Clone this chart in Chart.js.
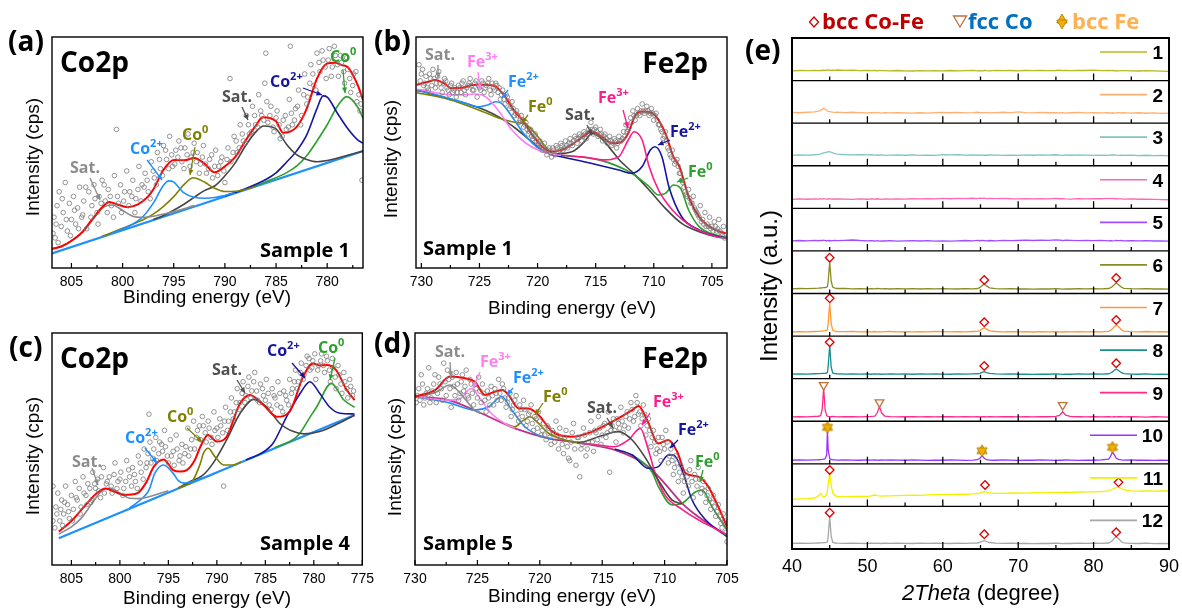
<!DOCTYPE html>
<html>
<head>
<meta charset="utf-8">
<script src="https://cdn.jsdelivr.net/npm/chart.js@4.4.1/dist/chart.umd.min.js"></script>
<style>
  html, body { margin: 0; padding: 0; background: #fff; overflow: hidden; }
  #wrap { position: relative; width: 1182px; height: 609px; }
  canvas { position: absolute; }
  #ov { position: absolute; left: 0; top: 0; pointer-events: none; }
</style>
</head>
<body>
<div id="wrap">
  <canvas id="cA" width="380" height="292" style="left:0;top:0"></canvas>
  <canvas id="cB" width="380" height="292" style="left:365px;top:0"></canvas>
  <canvas id="cC" width="380" height="300" style="left:0;top:296px"></canvas>
  <canvas id="cD" width="380" height="300" style="left:365px;top:296px"></canvas>
  <canvas id="cE" width="450" height="609" style="left:740px;top:0"></canvas>
  <svg id="ov" width="1182" height="609"></svg>
</div>
<script>
// ===== tick labels =====
const ticksA = [805, 800, 795, 790, 785, 780];
const ticksB = [730, 725, 720, 715, 710, 705];
const ticksC = [805, 800, 795, 790, 785, 780, 775];
const ticksD = [730, 725, 720, 715, 710, 705];
const ticksE = [40, 50, 60, 70, 80, 90];

// ===== (a) Co2p, Sample 1 : [binding energy, intensity] =====
const scatA = [[806.7,22],[806.6,13],[806.4,27],[806.2,33],[806.0,18],[805.8,24],[805.6,37],[805.4,16],[805.2,28],[805.0,21],[804.8,31],[804.6,19],[804.4,26],[804.2,35],[804.0,22],[803.8,29],[803.5,17],[803.3,33],[803.0,27],[802.8,36],[802.5,24],[802.3,31],[802.0,38],[801.7,29],[801.4,34],[801.1,27],[800.8,40],[800.6,60],[800.5,31],[800.2,36],[799.9,29],[799.6,42],[799.3,33],[799.0,38],[798.7,30],[798.4,44],[798.1,36],[797.8,41],[797.5,33],[797.2,46],[796.9,39],[796.6,50],[796.3,43],[796.0,53],[795.7,47],[795.4,57],[795.1,44],[794.8,51],[794.5,55],[794.2,46],[793.9,52],[793.6,58],[793.3,48],[793.0,54],[792.7,50],[792.4,45],[792.1,53],[791.8,41],[791.5,47],[791.2,39],[790.9,51],[790.6,44],[790.3,48],[790.0,37],[789.7,52],[789.5,82],[789.4,46],[789.1,57],[788.8,50],[788.5,62],[788.2,55],[787.9,66],[787.6,58],[787.3,70],[787.0,62],[786.7,75],[786.4,66],[786.1,80],[786.0,93],[785.8,63],[785.5,70],[785.2,59],[784.9,68],[784.6,56],[784.3,64],[784.0,60],[783.7,73],[783.6,96],[783.4,62],[783.1,69],[782.8,77],[782.5,66],[782.2,84],[781.9,74],[781.6,88],[781.3,79],[781.0,93],[780.7,85],[780.4,90],[780.1,82],[779.8,95],[779.5,87],[779.2,92],[778.9,83],[778.6,89],[778.3,80],[778.0,86],[777.7,76],[777.4,84],[777.1,72],[776.8,68],[776.6,38],
  [806.8,15],[806.5,19],[806.3,11],[805.9,30],[805.5,21],[805.1,14],[804.7,25],[804.3,17],[803.9,23],[803.6,35],[803.1,22],[802.7,30],[802.4,19],[802.1,28],[801.8,36],[801.5,24],[801.2,31],[800.9,22],[800.4,28],[800.1,24],[799.8,33],[799.4,27],[799.1,31],[798.8,24],[798.5,34],[798.2,29],[797.9,35],[797.6,38],[797.3,30],[797.0,42],[796.7,36],[796.4,47],[796.1,40],[795.8,51],[795.5,43],[795.2,49],[794.9,45],[794.6,48],[794.3,52],[794.0,43],[793.7,49],[793.4,44],[793.1,50],[792.8,46],[792.5,41],[792.2,48],[791.9,45],[791.6,43],[791.3,49],[791.0,44],[790.7,40],[790.4,46],[790.1,42],[789.8,47],[789.2,50],[788.9,55],[788.6,52],[788.3,58],[788.0,54],[787.7,62],[787.4,59],[787.1,66],[786.8,61],[786.5,68],[786.2,64],[785.9,72],[785.6,66],[785.3,61],[785.0,65],[784.7,62],[784.4,57],[784.1,66],[783.8,61],[783.5,67],[783.2,64],[782.9,70],[782.6,62],[782.3,75],[782.0,71],[781.7,80],[781.4,84],[781.1,77],[780.8,89],[780.5,94],[780.2,87],[779.9,90],[779.6,83],[779.3,96],[779.0,88],[778.7,92],[778.4,85],[778.1,91],[777.8,82],[777.5,79],[777.2,85],[776.9,75],[776.7,71]];
const fitA = [[806.9,8.3],[806,9.3],[805,11.8],[804,15.3],[803,20.9],[802,26.3],[801.3,28.6],[800.5,27.5],[799.5,26.3],[798.5,27.5],[797.5,31],[797,34],[796,42.5],[795,46.8],[794,46.6],[793,47.6],[792,45.2],[791,41.4],[790,44],[789,48],[788,55],[787,61.5],[786.3,65.3],[785,63.5],[784.3,58.5],[783,61],[782,69],[781,82],[780,88.5],[779.3,88.8],[778.5,87.8],[778,87],[777,79],[776.5,72.7]];
const bgA = [[806.9,6.3],[776.5,50.6]];
const satLA = [[806.9,8.3],[806,9.3],[805,11.7],[804,15.1],[803,20.5],[802,25.8],[801.5,27.1],[801,27.3],[800,24.9],[799,22.4],[798,21.9],[797,22.4],[796,23.4],[795,24.4],[793,27.0]];
const co2LA = [[801,15.2],[800,16.9],[799,19.0],[798,22.3],[797,28.1],[796,35.8],[795.5,37.7],[795,37.2],[794,32.5],[793,30.6],[792,30.2],[791,30.5],[790,31.4],[789,32.5]];
const co0LA = [[802,13.7],[800,17.2],[798,20.9],[797,23.3],[796,26.7],[795,30.9],[794,36.1],[793.1,39.1],[792,37.2],[791,34.5],[790,33.1],[789,33.2],[788,34.0],[787,35.3]];
const satDA = [[797,21.0],[796,22.7],[794,27.6],[793,30.6],[792,33.5],[791,35.5],[790,39.9],[789,45.4],[788,52.8],[787,58.8],[786.2,61.5],[785,60.2],[784,53.7],[783,49.1],[782,47.0],[781,46],[780,46.5],[778,48.8],[776.5,50.6]];
const co2DA = [[790,31.2],[788,34.3],[786,38.3],[785,41.2],[784,45.7],[783,50.6],[782,57.6],[781,69],[780.4,74.5],[780,74],[779,67],[778,60.4],[777,55.4],[776.5,54]];
const co0DA = [[787,35.5],[786,37.3],[784,41.2],[783,44.1],[782,48.6],[781,55],[780,62],[779,70],[778.1,74.2],[777,69.5],[776.5,64.8]];

// ===== (b) Fe2p, Sample 1 =====
const scatB = [[730.2,88],[730.0,84],[729.8,79],[729.6,83],[729.4,77],[729.2,82],[729.0,86],[728.8,78],[728.6,83],[728.4,80],[728.2,76],[728.0,82],[727.8,78],[727.6,75],[727.4,80],[727.2,77],[727.0,74],[726.8,79],[726.6,76],[726.4,81],[726.2,75],[726.0,79],[725.8,82],[725.6,77],[725.4,80],[725.2,74],[725.0,78],[724.8,81],[724.6,76],[724.4,79],[724.2,82],[724.0,75],[723.8,78],[723.6,80],[723.4,76],[723.2,73],[723.0,77],[722.8,71],[722.6,74],[722.4,69],[722.2,72],[722.0,66],[721.8,68],[721.6,63],[721.4,66],[721.2,61],[721.0,63],[720.8,58],[720.6,60],[720.4,56],[720.2,58],[720.0,53],[719.8,55],[719.6,51],[719.4,54],[719.2,49],[719.0,52],[718.8,48],[718.6,51],[718.4,53],[718.2,50],[718.0,54],[717.8,51],[717.6,55],[717.4,52],[717.2,56],[717.0,53],[716.8,57],[716.6,54],[716.4,58],[716.2,55],[716.0,59],[715.8,56],[715.6,60],[715.4,63],[715.2,58],[715.0,61],[714.8,57],[714.6,60],[714.4,55],[714.2,58],[714.0,54],[713.8,57],[713.6,53],[713.4,56],[713.2,52],[713.0,57],[712.8,55],[712.6,59],[712.4,62],[712.2,60],[712.0,65],[711.8,68],[711.6,64],[711.4,69],[711.2,66],[711.0,71],[710.8,67],[710.6,70],[710.4,66],[710.2,69],[710.0,64],[709.8,67],[709.6,62],[709.4,60],[709.2,56],[709.0,59],[708.8,52],[708.6,49],[708.4,51],[708.2,45],[708.0,47],[707.8,41],[707.6,38],[707.4,35],[707.2,32],[707.0,34],[706.8,28],[706.6,31],[706.4,25],[706.2,23],[706.0,27],[705.8,21],[705.6,24],[705.4,19],[705.2,22],[705.0,18],[704.8,20],[704.6,16],[704.4,21],[704.2,15],[704.0,18],[703.9,13],
  [730.1,81],[729.9,86],[729.7,80],[729.5,78],[729.3,84],[729.1,79],[728.9,82],[728.7,80],[728.5,85],[728.3,78],[728.1,80],[727.9,81],[727.7,77],[727.5,79],[727.3,76],[727.1,78],[726.9,76],[726.7,78],[726.5,80],[726.3,77],[726.1,78],[725.9,80],[725.7,79],[725.5,77],[725.3,81],[725.1,79],[724.9,77],[724.7,80],[724.5,78],[724.3,80],[724.1,77],[723.9,80],[723.7,77],[723.5,79],[723.3,78],[723.1,75],[722.9,73],[722.7,75],[722.5,72],[722.3,70],[722.1,69],[721.9,67],[721.7,66],[721.5,64],[721.3,64],[721.1,62],[720.9,60],[720.7,59],[720.5,57],[720.3,57],[720.1,55],[719.9,54],[719.7,53],[719.5,52],[719.3,51],[719.1,51],[718.9,50],[718.7,52],[718.5,49],[718.3,52],[718.1,51],[717.9,53],[717.7,52],[717.5,53],[717.3,54],[717.1,54],[716.9,55],[716.7,56],[716.5,56],[716.3,57],[716.1,57],[715.9,58],[715.7,58],[715.5,59],[715.3,60],[715.1,60],[714.9,59],[714.7,58],[714.5,58],[714.3,57],[714.1,56],[713.9,55],[713.7,55],[713.5,54],[713.3,55],[713.1,54],[712.9,55],[712.7,56],[712.5,57],[712.3,59],[712.1,61],[711.9,63],[711.7,66],[711.5,66],[711.3,67],[711.1,68],[710.9,68],[710.7,68],[710.5,68],[710.3,67],[710.1,67],[709.9,66],[709.7,64],[709.5,62],[709.3,59],[709.1,57],[708.9,55],[708.7,51],[708.5,48],[708.3,47],[708.1,46],[707.9,44],[707.7,41],[707.5,37],[707.3,33],[707.1,31],[706.9,30],[706.7,28],[706.5,26],[706.3,24],[706.1,22],[705.9,20],[705.7,19],[705.5,18],[705.3,18],[705.1,17],[704.9,16],[704.7,18],[704.5,17],[704.3,16],[704.1,14]];
const fitB = [[730.4,79.3],[729.5,80.5],[728.8,81.4],[728,79.8],[727.4,77.8],[726.5,78],[725.6,79.2],[724.5,79.3],[723.6,78.5],[722.8,74.2],[722,68],[721.3,64],[720.5,58],[719.6,52.5],[718.8,50.4],[717.5,52],[716.5,55.4],[715.3,59],[714.5,57],[713.6,54],[712.8,54.5],[712.2,58.3],[711.6,66],[711,67.7],[710.4,67.5],[709.9,66.2],[709,58.3],[708.3,48],[707.8,43.9],[707,30.9],[706.1,22.2],[705,17.2],[703.8,15]];
const bgB = [[730.4,77.2],[729.8,76.3],[728,73.8],[726.2,71.3],[724.5,68.3],[723.3,65.3],[721.9,60.5],[720.5,54.7],[719.3,50],[718.5,49.4],[717,50.4],[716,54.5],[715.3,58.3],[714.5,56],[713.8,52],[713,47],[711.9,41.7],[710.4,33.8],[709,25.8],[707.6,19.3],[706.1,15.7],[704.4,13.3],[703.8,13]];
const fe0LB = [[730.4,75.9],[728,73.5],[726.2,70.6],[724.5,67.3],[723.3,64.8],[722.2,63.3],[721.3,62.6],[720.9,61.8],[720.2,58.3],[719.3,52.5],[718.7,49.4],[718,48.8]];
const fe2LB = [[730.4,76.6],[729.8,76.3],[727.6,73.4],[726.2,71.3],[725.1,69.8],[724.3,70.6],[723.6,72],[723.1,71.3],[722.2,65.5],[721,56.9],[719.9,51.8],[718.8,49.4],[718,48.8]];
const fe3LB = [[730.4,77.4],[729.8,77],[727.4,74.9],[726.5,74.9],[725.4,75.3],[724.5,74.2],[723.4,68.4],[722.2,59.7],[721,54],[719.9,51],[718.8,49.4],[718,48.8]];
const fe3DB = [[718.8,49.2],[716,48],[714.2,46.8],[713,48.2],[712.2,55.4],[711.7,59],[711,55.4],[710.4,43.9],[709.6,33.8],[708.4,25.1],[706.7,17.9],[704.4,13.3],[703.8,13]];
const fe2DB = [[718.8,49],[716,46],[713,42.4],[711.9,41],[711,43.9],[710.3,51.1],[709.9,52.5],[709.3,48.2],[708.7,35.2],[707.6,22.2],[706.1,16.5],[704.4,13.6],[703.8,13.2]];
const fe0DB = [[718.8,49],[714.7,46.8],[711.9,41],[710.4,35.2],[709.6,31.6],[709,32.3],[708.3,35.9],[707.7,34.5],[707,25.1],[706.1,17.9],[704.4,13.9],[703.8,13.3]];

// ===== (c) Co2p, Sample 4 =====
const scatC = [[806.9,19],[806.9,34],[806.6,25],[806.4,31],[806.2,19],[806.0,28],[805.8,22],[805.6,34],[805.4,26],[805.2,20],[805.0,30],[804.8,24],[804.6,36],[804.4,28],[804.2,33],[804.0,25],[803.8,38],[803.5,30],[803.3,35],[803.0,27],[802.8,40],[802.5,33],[802.3,37],[802.0,29],[801.7,42],[801.4,35],[801.1,38],[800.8,31],[800.5,44],[800.2,36],[799.9,40],[799.6,33],[799.3,45],[799.0,38],[798.7,42],[798.4,36],[798.1,47],[797.8,40],[797.5,50],[797.2,44],[797.0,65],[796.9,53],[796.6,46],[796.3,55],[796.0,48],[795.7,52],[795.4,58],[795.1,47],[794.8,54],[794.5,49],[794.2,56],[793.9,45],[793.6,52],[793.3,48],[793.0,59],[792.7,50],[792.4,62],[792.1,55],[791.8,60],[791.5,64],[791.2,57],[790.9,62],[790.6,55],[790.3,66],[790.0,59],[789.7,63],[789.4,57],[789.3,34],[789.1,68],[788.8,62],[788.5,72],[788.2,66],[787.9,76],[787.6,70],[787.3,79],[787.0,73],[786.7,81],[786.4,75],[786.1,83],[785.8,71],[785.5,78],[785.2,73],[784.9,80],[784.6,69],[784.3,76],[784.0,72],[783.7,79],[783.4,68],[783.1,75],[782.8,71],[782.5,80],[782.2,76],[781.9,84],[781.6,79],[781.3,87],[781.0,82],[780.7,90],[780.4,84],[780.1,88],[779.8,80],[779.5,86],[779.2,91],[778.9,83],[778.6,88],[778.3,79],[778.0,85],[777.7,76],[777.4,82],[777.1,74],[776.8,79],[776.5,72],[776.2,77],[775.9,75],
  [806.7,16],[806.5,22],[806.1,24],[805.9,17],[805.7,27],[805.3,23],[804.9,19],[804.5,29],[804.1,22],[803.7,31],[803.4,26],[803.1,33],[802.9,28],[802.6,35],[802.2,32],[801.9,38],[801.6,31],[801.3,36],[800.9,34],[800.6,39],[800.3,33],[800.0,37],[799.7,30],[799.4,36],[799.1,41],[798.8,34],[798.5,39],[798.2,33],[797.9,44],[797.6,37],[797.3,42],[797.1,48],[796.8,44],[796.5,50],[796.2,45],[795.9,53],[795.6,49],[795.3,51],[795.0,44],[794.7,47],[794.4,43],[794.1,50],[793.8,47],[793.5,44],[793.2,51],[792.9,47],[792.6,54],[792.3,50],[792.0,58],[791.7,54],[791.4,60],[791.1,53],[790.8,59],[790.5,52],[790.2,58],[789.9,55],[789.6,60],[789.2,62],[788.9,58],[788.6,66],[788.3,63],[788.0,70],[787.7,67],[787.4,74],[787.1,70],[786.8,77],[786.5,72],[786.2,79],[785.9,75],[785.6,70],[785.3,76],[785.0,71],[784.7,74],[784.4,67],[784.1,73],[783.8,69],[783.5,74],[783.2,66],[782.9,73],[782.6,69],[782.3,74],[782.0,79],[781.7,76],[781.4,83],[781.1,80],[780.8,86],[780.5,89],[780.2,85],[779.9,91],[779.6,84],[779.3,88],[779.0,86],[778.7,90],[778.4,84],[778.1,89],[777.8,81],[777.5,86],[777.2,78],[776.9,83],[776.6,76],[776.3,80],[776.0,73]];
const fitC = [[806.3,14.5],[806.1,15.1],[805,19],[803.7,25.1],[802.5,30.5],[801.5,33],[800.5,31.5],[799.6,30.2],[798.2,30.9],[797.3,35.5],[796.5,42.4],[795.5,45.5],[794.5,40.9],[793.8,40.3],[793.1,40.9],[792.3,45],[791.7,51],[790.9,56],[790,53.2],[789,55.3],[787.6,69.7],[786.6,73.3],[785.2,69],[783.8,63.9],[782.5,66.1],[781.1,81.2],[780.1,86.9],[779.4,86],[778.7,86.2],[777.7,84],[776.6,75.4],[775.8,71.1]];
const bgC = [[806.3,11.5],[775.8,64.7]];
const satLC = [[806.3,13.3],[805,16.4],[804,20.1],[803,25.8],[802,31.4],[801.5,32.9],[801,33.1],[800,31],[799,28.8],[798,28.6],[797,29.4],[796,30.7],[795,32]];
const co2LC = [[799,24.5],[798.2,27],[797.5,29.5],[797,32.3],[796.4,39.5],[795.5,43.1],[794.5,39.5],[794,36.5],[793.4,35.3],[792.5,36],[791.5,37.4],[790,39.9]];
const co0LC = [[794,33.1],[793,34.8],[792.6,35.6],[791.7,43.8],[791.4,48],[790.9,50.3],[790.2,46.7],[789.3,43.1],[788.3,43.1],[787.5,44.5]];
const satDC = [[794,33.2],[792.8,35.9],[791.5,38.5],[790.4,43.8],[789,53.9],[787.6,65.4],[786.2,71.4],[784.9,68.2],[783.5,61],[782.1,57.5],[781,56.5],[779.4,57.5],[777,62],[775.8,64.5]];
const co2DC = [[787,45.3],[785.5,48],[784.2,52.5],[782.8,64],[781.4,74],[780.4,79],[779.4,74],[778.4,68.2],[777.3,65.4],[775.8,65.1]];
const co0DC = [[784,50.5],[782,54.5],[781.4,57],[780.5,63],[779.7,68.2],[778.2,78.3],[776.9,71.1],[775.8,68]];

// ===== (d) Fe2p, Sample 5 =====
const scatD = [[729.9,70],[729.7,76],[729.5,82],[729.3,69],[729.1,74],[728.9,85],[728.7,72],[728.5,78],[728.3,70],[728.1,81],[727.9,76],[727.7,87],[727.5,73],[727.3,80],[727.1,68],[726.9,77],[726.7,83],[726.5,71],[726.3,79],[726.1,75],[725.9,84],[725.7,72],[725.5,78],[725.3,69],[725.1,76],[724.9,81],[724.7,70],[724.5,74],[724.3,66],[724.1,72],[723.9,77],[723.7,69],[723.5,74],[723.3,80],[723.1,71],[722.9,76],[722.7,68],[722.5,72],[722.3,64],[722.1,69],[721.9,73],[721.7,62],[721.5,67],[721.3,71],[721.1,60],[720.9,65],[720.7,69],[720.5,58],[720.3,63],[720.1,66],[719.9,56],[719.7,61],[719.5,54],[719.3,59],[719.1,52],[718.9,57],[718.7,62],[718.5,50],[718.3,55],[718.1,48],[717.9,58],[717.7,46],[717.6,45],[717.5,53],[717.3,61],[717.1,43],[716.9,55],[716.8,38],[716.7,50],[716.5,59],[716.3,47],[716.1,53],[715.9,62],[715.7,49],[715.5,57],[715.3,64],[715.1,52],[714.9,60],[714.7,55],[714.5,66],[714.4,40],[714.3,58],[714.1,63],[713.9,53],[713.7,61],[713.5,68],[713.3,57],[713.1,64],[712.9,59],[712.7,70],[712.5,62],[712.3,73],[712.1,65],[711.9,60],[711.7,69],[711.5,56],[711.3,63],[711.1,51],[710.9,58],[710.7,48],[710.5,55],[710.3,45],[710.1,52],[709.9,58],[709.7,44],[709.5,50],[709.3,39],[709.1,47],[708.9,36],[708.7,43],[708.5,31],[708.3,40],[708.1,34],[707.9,45],[707.7,29],[707.5,37],[707.3,42],[707.1,31],[706.9,36],[706.7,27],[706.5,33],[706.3,24],[706.1,30],[705.9,21],[705.7,26],[705.5,18],[705.3,22],[705.1,14],[705.0,10],
  [729.8,73],[729.6,71],[729.4,78],[729.2,72],[729.0,76],[728.8,70],[728.6,75],[728.4,82],[728.2,74],[728.0,78],[727.8,71],[727.6,79],[727.4,84],[727.2,76],[727.0,81],[726.8,73],[726.6,78],[726.4,74],[726.2,82],[726.0,77],[725.8,73],[725.6,80],[725.4,74],[725.2,78],[725.0,72],[724.8,75],[724.6,78],[724.4,71],[724.2,75],[724.0,69],[723.8,73],[723.6,76],[723.4,71],[723.2,74],[723.0,78],[722.8,72],[722.6,70],[722.4,74],[722.2,67],[722.0,71],[721.8,65],[721.6,69],[721.4,64],[721.2,67],[721.0,62],[720.8,66],[720.6,61],[720.4,64],[720.2,59],[720.0,62],[719.8,58],[719.6,56],[719.4,60],[719.2,55],[719.0,58],[718.8,53],[718.6,56],[718.4,59],[718.2,52],[718.0,55],[717.8,51],[717.4,57],[717.2,50],[717.0,55],[716.6,52],[716.4,56],[716.2,50],[716.0,57],[715.8,53],[715.6,58],[715.4,54],[715.2,59],[715.0,56],[714.8,61],[714.6,57],[714.2,60],[714.0,58],[713.8,63],[713.6,59],[713.4,62],[713.2,60],[713.0,66],[712.8,63],[712.6,67],[712.4,64],[712.2,70],[712.0,66],[711.8,63],[711.6,65],[711.4,60],[711.2,58],[711.0,55],[710.8,53],[710.6,50],[710.4,49],[710.2,55],[710.0,50],[709.8,53],[709.6,47],[709.4,45],[709.2,42],[709.0,44],[708.8,40],[708.6,38],[708.4,36],[708.2,38],[708.0,41],[707.8,36],[707.6,39],[707.4,34],[707.2,37],[707.0,33],[706.8,32],[706.6,30],[706.4,28],[706.2,27],[706.0,25],[705.8,23],[705.6,21],[705.4,16],[705.2,19]];
const fitD = [[730,72.6],[728.4,75.4],[727.2,81.2],[726,80.5],[725.2,79],[724.4,73.3],[723.6,74.7],[723,75.4],[722.5,73.3],[721.7,67.5],[720.9,67.5],[720.1,64.7],[719,57.5],[717.4,55.3],[715.8,57.5],[714.2,61.8],[712.6,66.8],[712.1,68.5],[711.4,62.5],[710.5,52.4],[709.7,53.9],[709,48.9],[708.3,39.5],[707.3,38.1],[706.5,33.8],[705.7,25.1],[705,16.5]];
const bgD = [[730,72.6],[727.3,71.1],[724.7,65.4],[722,58.9],[719.3,54.6],[716.6,52.4],[714,49.6],[711.3,42.4],[710,35.2],[708.6,26.6],[707.3,20.8],[705.9,15.8],[705,12.9]];
const satLD = [[730,72.6],[728.4,74.3],[727.2,77.6],[726,71.6],[725.2,66.6],[724.7,65.4]];
const fe3LD = [[730,72.6],[727.3,71.1],[726.5,71.3],[725.5,76.1],[724.7,71.1],[723.9,65.4],[722.8,61],[722,58.9]];
const fe2LD = [[730,72.6],[727.3,70],[725.2,66.8],[724.1,68.2],[723.05,72.6],[722.25,66.8],[721.2,59.6],[719.8,55.3],[719,54.4]];
const fe0LD = [[722.8,61],[722,59.6],[721.4,62],[720.8,63.9],[720.1,61],[719.3,56.8],[718,53.9],[717,52.8]];
const satDD = [[717.4,52.8],[716.6,53],[715.3,55.3],[713.7,57.5],[712.6,53.9],[711.6,46.7],[710.5,36.6],[709.4,28],[708.6,26.4]];
const fe3DD = [[717,52.6],[715.3,51.7],[714,51],[712.9,53.9],[711.95,58.9],[711.3,49.6],[710.75,39.5],[709.95,30],[708.6,24],[707.3,19.5],[705.9,15.5],[705,12.9]];
const fe2DD = [[714,50],[712.6,47.4],[711.3,41.7],[710.5,42.4],[709.7,47.4],[709.3,47.4],[708.6,41],[707.8,28],[706.7,19.4],[705,12.2]];
const fe0DD = [[712.6,47.6],[711,40],[710.5,33.8],[709.4,25.9],[708.6,26.6],[707.5,31.6],[707,32.3],[706.2,25.1],[705,15.1]];

// ===== (e) XRD, 2Theta grid shared by the 12 patterns =====
const twoTheta = [40,41,42,43,43.5,43.8,44.0,44.2,44.4,44.6, 44.7,44.8,45.0,45.2,45.4,45.7,46,47,48,49, 50,50.5,51,51.3,51.6,51.9,52.3,53,54,55, 56,57,58,59,60,61,62,63,64,64.6, 64.9,65.2,65.5,65.8,66.2,67,68,69,70,71, 72,73,74,75,75.5,75.9,76.3,77,78,79, 80,81,82,82.2,82.5,82.8,83.0,83.3,83.7,84, 85,86,87,88,89,90];
const xrd1 = [9.8,10.1,9.9,10.2,10.0,10.3,10.1,10.4,10.2,10.5, 10.3,10.6,10.4,10.2,10.5,10.3,10.6,10.2,10.4,10.0, 10.3,9.9,10.1,9.8,10.2,9.9,10.0,9.7,10.1,9.8, 9.6,9.9,9.7,10.0,9.8,10.1,9.7,9.9,10.2,9.8, 10.0,9.7,10.1,9.9,9.8,10.2,9.9,10.1,9.8,10.3, 10.0,10.2,9.9,10.1,10.4,10.0,10.2,9.9,10.3,10.1, 10.4,10.0,10.2,9.9,10.1,9.8,10.0,9.7,9.9,10.0, 9.8,9.6,9.9,9.7,9.5,9.3];
const xrd2 = [10.8,10.4,10.9,11.3,12.0,12.8,13.8,14.9,14.2,12.9, 12.2,11.8,11.5,11.2,11.0,10.8,11.1,10.6,10.9,10.5, 10.2,10.6,10.3,10.7,10.4,10.1,10.5,10.2,10.6,10.3, 10.0,10.4,10.1,10.5,10.8,10.4,10.7,10.3,10.6,10.9, 10.5,10.8,10.4,10.7,10.3,10.6,10.9,10.5,11.2,10.6, 10.3,10.7,10.4,10.6,10.2,10.5,10.1,10.4,10.7,10.3, 10.6,10.2,10.5,10.1,10.4,10.0,10.3,10.6,10.2,10.5, 10.1,10.4,9.9,10.2,9.8,10.0];
const xrd3 = [10.4,10.8,10.6,11.0,11.4,11.9,12.3,12.8,13.2,13.6, 13.8,13.9,14.0,13.5,12.9,12.2,11.6,11.2,10.9,11.1, 10.8,11.0,10.6,10.9,10.5,10.8,10.4,10.7,10.9,10.5, 10.8,10.4,10.7,10.3,11.1,10.8,11.0,10.6,10.9,10.5, 10.8,10.4,10.7,10.5,10.9,10.6,10.3,10.7,10.4,10.8, 10.5,10.9,10.6,11.0,10.7,10.4,10.8,10.5,10.9,10.6, 10.3,10.7,10.4,10.8,10.5,10.9,10.6,10.3,10.7,10.4, 10.6,10.2,10.5,10.1,10.3,9.8];
const xrd4 = [9.0,9.4,9.1,9.5,9.2,9.6,9.3,9.7,9.4,9.2, 9.5,9.3,9.6,9.2,9.4,9.1,9.5,9.2,9.0,9.4, 9.1,9.5,9.2,9.6,9.3,9.0,9.4,9.2,9.5,9.3, 9.6,9.4,9.8,9.5,9.9,9.6,10.0,9.7,10.1,9.8, 10.2,9.9,10.1,9.8,10.0,9.7,9.9,9.6,9.5,9.8, 9.4,9.7,9.5,9.9,9.6,9.8,9.5,9.3,9.7,9.4, 9.8,9.6,10.0,9.7,9.9,9.6,9.8,9.5,9.4,9.2, 9.5,9.1,9.3,9.0,8.8,8.6];
const xrd5 = [10.0,10.4,10.1,10.5,10.2,10.6,10.3,10.7,10.4,10.2, 10.5,10.1,10.4,10.0,10.3,10.6,10.2,10.5,10.9,10.4, 10.1,10.3,9.9,10.2,9.8,10.1,9.9,10.2,9.8,10.0, 10.3,9.9,10.2,9.8,10.1,9.7,10.0,10.4,10.1,10.5, 10.2,10.6,10.3,10.0,10.4,10.1,10.5,10.2,10.4,10.7, 10.4,10.8,10.5,11.0,10.7,10.4,10.8,10.5,10.2,10.6, 10.3,10.5,10.1,10.4,10.0,10.3,10.6,10.2,10.4,10.1, 10.3,10.0,10.2,9.9,10.1,9.8];
const xrd6 = [4.6,5.0,4.8,5.1,5.3,5.5,5.6,5.8,6.0,6.3, 7.0,12.5,31.8,12.0,6.5,5.4,5.0,5.1,4.7,4.9, 4.6,4.9,4.7,5.0,4.8,4.6,4.9,4.5,4.8,4.6, 4.9,4.5,4.8,4.6,4.9,4.7,4.5,4.8,4.6,5.0, 5.8,7.8,9.5,7.6,5.6,4.9,4.6,4.8,4.5,4.7, 4.4,4.7,4.5,4.8,4.6,4.4,4.7,4.5,4.8,4.6, 4.8,4.6,5.0,5.6,7.0,9.2,10.5,8.8,6.3,5.2, 4.8,4.6,4.9,4.5,4.7,4.4];
const xrd7 = [4.2,4.5,4.3,4.6,4.7,4.9,5.0,5.2,5.4,5.7, 6.5,12.8,32.8,12.2,6.0,5.0,4.6,4.4,4.7,4.3, 4.5,4.2,4.6,4.3,4.5,4.2,4.4,4.6,4.3,4.5, 4.2,4.5,4.3,4.6,4.4,4.2,4.5,4.3,4.6,4.7, 5.4,7.0,8.4,6.9,5.3,4.6,4.3,4.5,4.2,4.4, 4.1,4.4,4.2,4.5,4.3,4.1,4.4,4.2,4.5,4.3, 4.5,4.3,4.8,5.6,7.4,9.8,11.1,9.3,6.4,5.0, 4.5,4.3,4.6,4.2,4.4,4.1];
const xrd8 = [4.5,4.8,4.6,4.9,5.0,5.1,5.2,5.3,5.4,5.6, 6.2,12.5,33.7,11.5,5.8,5.1,4.9,4.6,4.8,4.5, 4.7,4.4,4.8,4.5,4.7,4.4,4.6,4.8,4.5,4.7, 4.4,4.7,4.5,4.8,4.6,4.4,4.7,4.5,4.8,4.9, 5.3,6.2,7.0,6.1,5.2,4.8,4.5,4.7,4.4,4.6, 4.3,4.6,4.4,4.7,4.5,4.3,4.6,4.4,4.7,4.5, 4.7,4.5,4.9,5.4,6.8,8.6,9.7,8.2,6.0,5.0, 4.6,4.4,4.7,4.3,4.5,4.2];
const xrd9 = [4.3,4.6,4.4,4.8,5.0,5.6,11.5,32.9,11.0,5.6, 5.1,4.9,4.7,4.5,4.8,4.6,4.4,4.7,4.5,4.3, 4.6,4.8,5.2,8.5,14.5,8.2,5.2,4.6,4.4,4.7, 4.5,4.3,4.6,4.4,4.7,4.5,4.3,4.6,4.4,4.6, 4.4,4.7,4.5,4.3,4.6,4.4,4.7,4.5,4.3,4.6, 4.4,4.7,4.5,4.8,6.0,9.5,6.0,4.7,4.5,4.3, 4.6,4.4,4.7,4.5,4.3,4.6,4.4,4.7,4.5,4.3, 4.6,4.4,4.2,4.5,4.3,4.1];
const xrd10 = [3.6,3.9,3.7,4.0,4.1,4.3,4.4,4.6,5.2,9.0, 33.1,14.0,5.4,4.4,4.1,3.9,3.7,4.0,3.8,3.6, 3.9,3.7,4.0,3.8,3.6,3.9,3.7,4.0,3.8,3.6, 3.9,3.7,3.5,3.8,3.6,3.9,3.7,3.5,3.8,4.1, 5.5,8.1,5.6,4.1,3.8,3.6,3.9,3.7,3.5,3.8, 3.6,3.9,3.7,3.5,3.8,3.6,3.9,3.7,3.5,3.8, 3.6,3.9,4.8,7.0,11.5,8.4,5.6,4.4,3.9,3.7, 3.9,3.6,3.8,3.5,3.7,3.4];
const xrd11 = [7.1,7.6,7.8,8.4,10.5,13.0,10.8,9.3,10.0,12.5, 15.5,22.0,33.7,21.0,13.5,10.8,9.9,9.6,9.9,10.1, 10.0,10.6,11.4,10.9,10.5,10.3,10.6,10.5,10.8,11.0, 11.3,11.1,11.5,11.8,12.0,11.8,12.2,12.1,12.5,12.9, 13.5,14.2,14.7,14.3,13.6,13.1,13.0,13.4,13.5,13.3, 13.7,13.6,14.0,13.9,14.1,14.0,14.2,14.1,14.4,14.6, 14.5,14.9,15.6,16.2,17.2,18.4,18.9,19.1,18.0,16.5, 15.5,15.2,15.6,15.3,15.5,15.4];
const xrd12 = [5.5,5.8,5.6,5.9,6.0,6.1,6.2,6.3,6.4,6.6, 7.2,13.0,32.3,12.5,6.8,6.0,5.8,5.6,5.9,5.7, 5.5,5.8,5.6,5.9,5.7,5.5,5.8,5.6,5.9,5.7, 5.5,5.8,5.6,5.9,5.7,5.5,5.8,5.6,5.9,6.0, 6.6,7.6,8.3,7.5,6.5,5.9,5.6,5.8,5.5,5.7, 5.4,5.7,5.5,5.8,5.6,5.4,5.7,5.5,5.8,5.6, 5.8,5.6,6.0,6.8,8.6,11.0,12.3,10.5,7.3,6.1, 5.7,5.5,5.8,5.4,5.6,5.3];
const xrdSeries = [xrd1, xrd2, xrd3, xrd4, xrd5, xrd6, xrd7, xrd8, xrd9, xrd10, xrd11, xrd12];
const xrdNames = ['1','2','3','4','5','6','7','8','9','10','11','12'];
const xrdColors = ['#b8b820','#ffb070','#7fc4c0','#ff66b3','#9f4dff','#8b8b26','#ff9933','#1a8f8f','#ff2a8a','#9933ff','#f0f000','#a6a6a6'];

// phase markers: [2Theta, height in its strip]
const cofe6 = [[45.0,35.8],[65.5,13.5],[83.0,15.5]];
const cofe7 = [[45.0,37.8],[65.5,13.8],[83.0,16.1]];
const cofe8 = [[45.0,36.4],[65.5,12.7],[83.0,15.4]];
const cofe11 = [[45.0,36.4],[65.6,21.4],[83.3,24.1]];
const cofe12 = [[45.0,36.3],[65.5,14.7],[83.0,16.7]];
const fccCo9 = [[44.2,36.2],[51.6,18.9],[75.9,16.2]];
const bccFe10 = [[44.7,36.5],[65.2,13.1],[82.5,16.5]];

// ===== 색상 =====
const C = { red: '#ff0000', lgray: '#8c8c8c', dgray: '#454545', lblue: '#1e8fff', olive: '#808000',
            navy: '#1515a0', green: '#2ca02c', lpink: '#ff7df5', hpink: '#ff1a8c' };

// ===== 프레임 + 안쪽 눈금 플러그인 =====
const framePlugin = {
  id: 'frame',
  afterDraw(chart, args, o) {
    const { ctx, chartArea: a, scales } = chart;
    const x = scales.x;
    ctx.save();
    ctx.strokeStyle = '#000';
    const rows = o.rows ? Object.values(scales).filter(s => s.axis === 'y').map(s => s.bottom) : [a.bottom];
    ctx.lineWidth = o.sep || 1.2;
    ctx.beginPath();
    rows.forEach(yb => {
      if (yb < a.bottom - 1) { ctx.moveTo(a.left, yb); ctx.lineTo(a.right, yb); }
      const start = Math.ceil(x.min / o.minor - 1e-9) * o.minor;
      for (let v = start; v <= x.max + 1e-9; v += o.minor) {
        const px = x.getPixelForValue(v);
        const major = Math.abs(v / o.major - Math.round(v / o.major)) < 1e-6;
        ctx.moveTo(px, yb);
        ctx.lineTo(px, yb - (major ? o.majorLen : o.minorLen));
      }
    });
    ctx.stroke();
    ctx.lineWidth = o.width || 1.4;
    ctx.strokeRect(a.left, a.top, a.right - a.left, a.bottom - a.top);
    ctx.restore();
  }
};

const TICKFONT = { family: "'Liberation Sans', Arial, sans-serif", size: 14 };

function curve(data, color, w) {
  return { data, borderColor: color, borderWidth: w || 1.6, pointRadius: 0, cubicInterpolationMode: 'monotone', fill: false };
}
function dots(data) {
  return { type: 'scatter', data, showLine: false, pointRadius: 2.3, pointBorderWidth: 0.8,
           pointBorderColor: '#7a7a7a', pointBackgroundColor: 'rgba(0,0,0,0)' };
}

function xpsChart(id, xmin, xmax, tickVals, pad, xh, datasets) {
  return new Chart(document.getElementById(id), {
    type: 'line',
    data: { datasets },
    options: {
      responsive: false, animation: false, events: [],
      layout: { padding: pad },
      plugins: { legend: { display: false }, tooltip: { enabled: false },
                 frame: { major: 5, minor: 2.5, majorLen: 5, minorLen: 3, width: 1.4 } },
      scales: {
        x: { type: 'linear', reverse: true, min: xmin, max: xmax,
             grid: { display: false, drawTicks: false }, border: { display: false },
             ticks: { autoSkip: false, padding: 6, color: '#000', font: TICKFONT },
             afterBuildTicks: s => { s.ticks = tickVals.map(v => ({ value: v })); },
             afterFit: s => { s.height = xh; } },
        y: { min: 0, max: 100, ticks: { display: false }, grid: { display: false, drawTicks: false },
             border: { display: false }, afterFit: s => { s.width = 0; } }
      }
    },
    plugins: [framePlugin]
  });
}

xpsChart('cA', 776.5, 806.9, ticksA, { left: 52, right: 17, top: 37, bottom: 0 }, 24, [
  dots(scatA), curve(fitA, C.red, 2), curve(satLA, C.lgray), curve(co2LA, C.lblue), curve(co0LA, C.olive),
  curve(satDA, C.dgray), curve(co2DA, C.navy), curve(co0DA, C.green), curve(bgA, C.lblue, 2.2)
]);
xpsChart('cB', 703.7, 730.46, ticksB, { left: 51, right: 18, top: 37, bottom: 0 }, 24, [
  dots(scatB), curve(fitB, C.red, 2), curve(fe3LB, C.lpink), curve(fe2LB, C.lblue), curve(fe0LB, C.olive),
  curve(fe3DB, C.hpink), curve(fe2DB, C.navy), curve(fe0DB, C.green), curve(bgB, C.dgray)
]);
xpsChart('cC', 775, 807, ticksC, { left: 52, right: 17, top: 37, bottom: 0 }, 31, [
  dots(scatC), curve(fitC, C.red, 2), curve(satLC, C.lgray), curve(co2LC, C.lblue), curve(co0LC, C.olive),
  curve(satDC, C.dgray), curve(co2DC, C.navy), curve(co0DC, C.green), curve(bgC, C.lblue, 2.2)
]);
xpsChart('cD', 705, 730, ticksD, { left: 50, right: 18, top: 37, bottom: 0 }, 31, [
  dots(scatD), curve(fitD, C.red, 2), curve(satLD, C.lgray), curve(fe3LD, C.lpink), curve(fe2LD, C.lblue),
  curve(fe0LD, C.olive), curve(satDD, C.dgray), curve(fe3DD, C.hpink), curve(fe2DD, C.navy),
  curve(fe0DD, C.green), curve(bgD, '#c03080', 1.8)
]);

// ===== (e) XRD: 12 stacked strips =====
const starImg = document.createElement('canvas');
starImg.width = 14; starImg.height = 14;
(function () {
  const g = starImg.getContext('2d');
  g.fillStyle = '#f2b100'; g.strokeStyle = '#b07800'; g.lineWidth = 0.8;
  [-90, 90].forEach(a0 => {
    g.beginPath();
    for (let i = 0; i < 3; i++) {
      const a = (a0 + i * 120) * Math.PI / 180;
      const px = 7 + 6 * Math.cos(a), py = 7 + 6 * Math.sin(a);
      i ? g.lineTo(px, py) : g.moveTo(px, py);
    }
    g.closePath(); g.fill(); g.stroke();
  });
})();

function marks(data, axis, style) {
  const base = { type: 'scatter', data, yAxisID: axis, showLine: false, pointBorderWidth: 1.3 };
  if (style === 'cofe') return Object.assign(base, { pointStyle: 'rectRot', pointRadius: 4.3, pointBorderColor: '#e00000', pointBackgroundColor: '#fff' });
  if (style === 'fcc') return Object.assign(base, { pointStyle: 'triangle', rotation: 180, pointRotation: 180, pointRadius: 5, pointBorderColor: '#c0703a', pointBackgroundColor: '#fff' });
  return Object.assign(base, { pointStyle: starImg, pointRadius: 7 });
}

const xrdSets = [
  marks(cofe6, 'y6', 'cofe'), marks(cofe7, 'y7', 'cofe'), marks(cofe8, 'y8', 'cofe'),
  marks(cofe11, 'y11', 'cofe'), marks(cofe12, 'y12', 'cofe'),
  marks(fccCo9, 'y9', 'fcc'), marks(bccFe10, 'y10', 'fe')
];
xrdSeries.forEach((s, i) => {
  xrdSets.push({ data: twoTheta.map((t, j) => [t, s[j]]), yAxisID: 'y' + (i + 1), borderColor: xrdColors[i],
                 borderWidth: 1.3, pointRadius: 0, tension: 0, fill: false });
});

const xrdScales = {
  x: { type: 'linear', min: 40, max: 90, grid: { display: false, drawTicks: false }, border: { display: false },
       ticks: { autoSkip: false, padding: 7, color: '#000', font: { family: TICKFONT.family, size: 18 } },
       afterBuildTicks: s => { s.ticks = ticksE.map(v => ({ value: v })); },
       afterFit: s => { s.height = 60; } }
};
for (let k = 12; k >= 1; k--) {
  xrdScales['y' + k] = { type: 'linear', position: 'left', stack: 'xrd', stackWeight: 1, min: 0, max: 42.6,
                         ticks: { display: false }, grid: { display: false, drawTicks: false },
                         border: { display: false }, afterFit: s => { s.width = 0; } };
}

new Chart(document.getElementById('cE'), {
  type: 'line',
  data: { datasets: xrdSets },
  options: {
    responsive: false, animation: false, events: [],
    layout: { padding: { left: 52, right: 21, top: 38, bottom: 0 } },
    plugins: { legend: { display: false }, tooltip: { enabled: false },
               frame: { rows: true, major: 10, minor: 5, majorLen: 7, minorLen: 4, width: 2, sep: 1.3 } },
    scales: xrdScales
  },
  plugins: [framePlugin]
});

// ===== 텍스트 오버레이 =====
const NS = 'http://www.w3.org/2000/svg';
const svg = document.getElementById('ov');
const BOLD = "'Open Sans', 'DejaVu Sans', sans-serif";
const PLAIN = "'Liberation Sans', Arial, sans-serif";
function add(tag, attrs, text, parent) {
  const e = document.createElementNS(NS, tag);
  for (const k in attrs) e.setAttribute(k, attrs[k]);
  if (text != null) e.textContent = text;
  (parent || svg).appendChild(e);
  return e;
}
function txt(x, y, s, size, opts) {
  return add('text', Object.assign({ x, y, 'font-family': BOLD, 'font-weight': 700, 'font-size': size, fill: '#000' }, opts || {}), s);
}
function arrow(x1, y1, x2, y2, c) {
  add('line', { x1, y1, x2, y2, stroke: c, 'stroke-width': 1.3 });
  const a = Math.atan2(y2 - y1, x2 - x1), L = 5.5, W = 2.6;
  const bx = x2 - L * Math.cos(a), by = y2 - L * Math.sin(a);
  const pts = [[x2, y2], [bx + W * Math.sin(a), by - W * Math.cos(a)], [bx - W * Math.sin(a), by + W * Math.cos(a)]];
  add('polygon', { points: pts.map(p => p.join(',')).join(' '), fill: c });
}

// panel letters, element names, sample names
[['(a)', 8, 51], ['(b)', 374, 51], ['(c)', 9, 357], ['(d)', 374, 353], ['(e)', 745, 60]]
  .forEach(([s, x, y]) => txt(x, y, s, 28));
txt(60, 72, 'Co2p', 28);
txt(708, 73, 'Fe2p', 28, { 'text-anchor': 'end' });
txt(60, 368, 'Co2p', 28);
txt(708, 368, 'Fe2p', 28, { 'text-anchor': 'end' });
txt(260, 257, 'Sample 1', 20);
txt(423, 255, 'Sample 1', 20);
txt(260, 550, 'Sample 4', 20);
txt(423, 550, 'Sample 5', 20);

// axis titles
[[207, 303], [572, 314], [207, 604], [572, 602]].forEach(([x, y]) =>
  add('text', { x, y, 'text-anchor': 'middle', 'font-family': PLAIN, 'font-size': 19, fill: '#000' }, 'Binding energy (eV)'));
[[39, 157], [397, 159], [39, 456], [401, 457]].forEach(([x, y]) =>
  add('text', { x: 0, y: 0, transform: `translate(${x},${y}) rotate(-90)`, 'text-anchor': 'middle',
                'font-family': PLAIN, 'font-size': 19, fill: '#000' }, 'Intensity (cps)'));
add('text', { x: 0, y: 0, transform: 'translate(777,286) rotate(-90)', 'text-anchor': 'middle',
              'font-family': PLAIN, 'font-size': 24, fill: '#000' }, 'Intensity (a.u.)');
const tt = add('text', { x: 981, y: 600, 'text-anchor': 'middle', 'font-family': PLAIN, 'font-size': 22, fill: '#000' });
add('tspan', { 'font-style': 'italic' }, '2Theta', tt);
add('tspan', {}, ' (degree)', tt);

// peak labels: [text, superscript, colour, x, y, arrow x1, y1, x2, y2]
const peakLabels = [
  ['Sat.', '', C.lgray, 70, 173, 90, 178, 100, 200], ['Co', '2+', C.lblue, 130, 154, 147, 160, 162, 180],
  ['Co', '0', C.olive, 182, 140, 195, 147, 190, 175], ['Sat.', '', '#505050', 222, 102, 242, 107, 248, 120],
  ['Co', '2+', C.navy, 270, 87, 303, 88, 322, 95], ['Co', '0', C.green, 330, 62, 343, 70, 345, 93],
  ['Sat.', '', C.lgray, 425, 60, 438, 65, 438, 78], ['Fe', '3+', C.lpink, 467, 67, 478, 72, 480, 90],
  ['Fe', '2+', C.lblue, 508, 87, 508, 90, 502, 98], ['Fe', '0', C.olive, 528, 112, 528, 115, 522, 123],
  ['Sat.', '', '#505050', 565, 120, 587, 125, 592, 135], ['Fe', '3+', C.hpink, 598, 103, 623, 110, 628, 128],
  ['Fe', '2+', C.navy, 670, 137, 670, 140, 658, 145], ['Fe', '0', C.green, 688, 177, 688, 178, 677, 182],
  ['Sat.', '', C.lgray, 72, 467, 92, 468, 98, 485], ['Co', '2+', C.lblue, 125, 443, 145, 448, 157, 463],
  ['Co', '0', C.olive, 167, 422, 187, 428, 202, 442], ['Sat.', '', '#505050', 212, 375, 237, 380, 245, 393],
  ['Co', '2+', C.navy, 267, 356, 292, 363, 305, 378], ['Co', '0', C.green, 318, 353, 335, 358, 330, 380],
  ['Sat.', '', C.lgray, 435, 357, 450, 362, 451, 377], ['Fe', '3+', C.lpink, 480, 367, 480, 372, 473, 388],
  ['Fe', '2+', C.lblue, 513, 383, 513, 388, 507, 395], ['Fe', '0', C.olive, 543, 402, 543, 403, 535, 415],
  ['Sat.', '', '#505050', 587, 413, 607, 418, 613, 428], ['Fe', '3+', C.hpink, 653, 407, 650, 413, 642, 425],
  ['Fe', '2+', C.navy, 678, 435, 678, 440, 670, 448], ['Fe', '0', C.green, 695, 467, 703, 470, 700, 482]
];
peakLabels.forEach(([b, sup, c, x, y, x1, y1, x2, y2]) => {
  arrow(x1, y1, x2, y2, c);
  const t = txt(x, y, null, 16, { fill: c });
  add('tspan', {}, b, t);
  if (sup) add('tspan', { dy: -7, 'font-size': 11 }, sup, t);
});

// XRD phase legend
add('polygon', { points: '814,17 818.5,22 814,27 809.5,22', fill: '#fff', stroke: '#d00000', 'stroke-width': 1.3 });
txt(822, 29, 'bcc Co-Fe', 22, { fill: '#c00000' });
add('polygon', { points: '953.5,16 966.5,16 960,27', fill: '#fff', stroke: '#c0703a', 'stroke-width': 1.3 });
txt(968, 29, 'fcc Co', 22, { fill: '#0070c0' });
add('polygon', { points: '1062,14 1067.2,23 1056.8,23', fill: '#f2b100', stroke: '#b07800', 'stroke-width': 0.8 });
add('polygon', { points: '1062,29 1067.2,20 1056.8,20', fill: '#f2b100', stroke: '#b07800', 'stroke-width': 0.8 });
txt(1072, 29, 'bcc Fe', 22, { fill: '#ffb050' });

// XRD strip legends
const stripH = 511 / 12;
xrdNames.forEach((n, i) => {
  const top = 38 + i * stripH;
  const x1 = i < 9 ? 1100 : 1090, x2 = i < 9 ? 1147 : 1137;
  add('line', { x1, y1: top + 14, x2, y2: top + 14, stroke: xrdColors[i], 'stroke-width': 1.6 });
  add('text', { x: 1163, y: top + 21, 'text-anchor': 'end', 'font-family': PLAIN, 'font-weight': 700,
                'font-size': 19, fill: '#000' }, n);
});
</script>
</body>
</html>
